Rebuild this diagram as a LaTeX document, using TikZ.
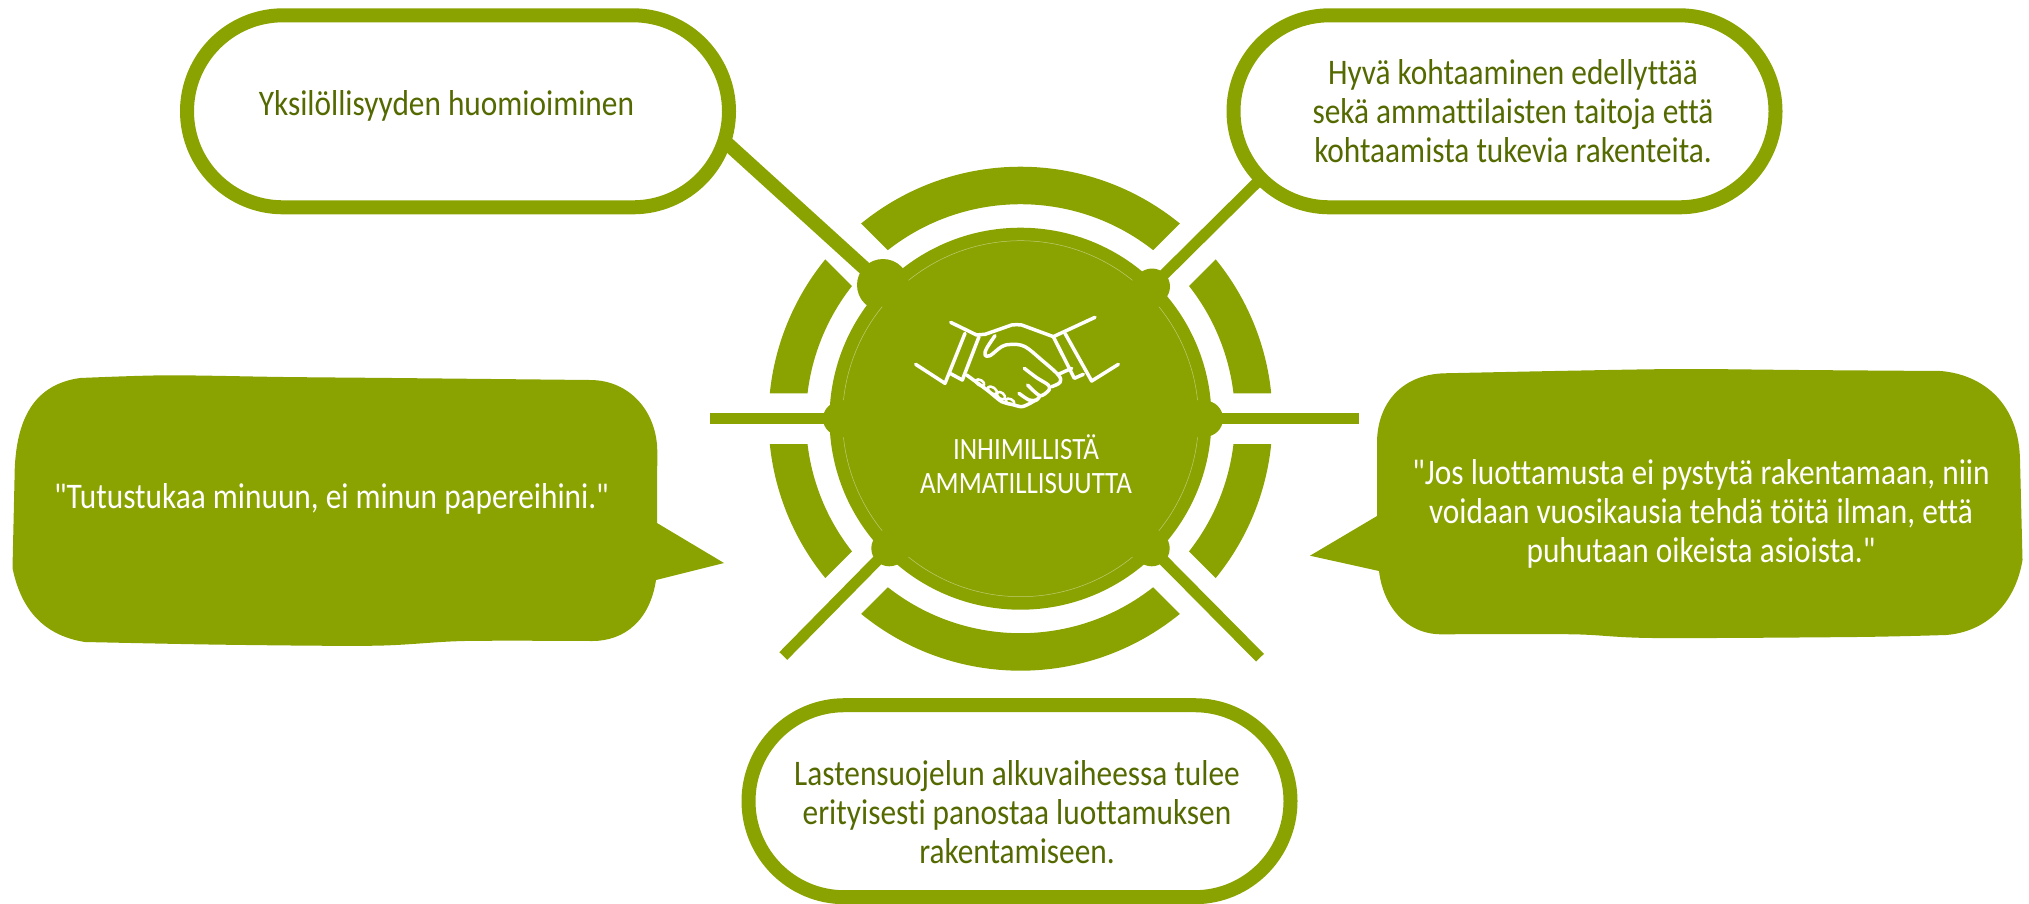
\documentclass[tikz,border=0pt]{standalone}
\usepackage{fontspec}
\setmainfont{Carlito}
\newfontfamily\ltxt{Carlito}[FakeStretch=0.87,Ligatures={NoCommon,NoRare,NoDiscretionary,NoContextual}]
\definecolor{leaf}{HTML}{8AA300}
\definecolor{ink}{HTML}{546A00}
\tikzset{
  pill/.style={draw=leaf,line width=14pt,fill=white,rounded corners=96pt,minimum width=542pt,minimum height=192pt,inner sep=0pt,outer sep=0pt},
  conn/.style={draw=leaf,line width=11pt},
  knob/.style={circle,fill=leaf,inner sep=0pt,outer sep=0pt},
  darktxt/.style={text=ink,align=center,font=\ltxt\fontsize{36pt}{38.7pt}\selectfont,inner sep=0pt},
  lighttxt/.style={text=white,align=center,font=\ltxt\fontsize{36pt}{39.2pt}\selectfont,inner sep=0pt},
  handline/.style={draw=white,line width=3.5pt,line cap=round,line join=round},
  thinring/.style={draw=white,line width=0.5pt,opacity=0.45}
}
\newcommand{\ringsector}[2]{%
  \pgfmathsetmacro{\oa}{#1+5.78}\pgfmathsetmacro{\ob}{#2-5.78}%
  \pgfmathsetmacro{\ia}{#2-6.8}\pgfmathsetmacro{\ib}{#1+6.8}%
  \fill[leaf] ([shift={(\oa:252pt)}]1020.5,418.7) arc[start angle=\oa,end angle=\ob,radius=252pt]
    -- ([shift={(\ia:214.5pt)}]1020.5,418.7) arc[start angle=\ia,end angle=\ib,radius=214.5pt] -- cycle;}
\newcommand{\thinarc}[2]{%
  \draw[thinring] ([shift={(#1:178pt)}]1020.5,418.7) arc[start angle=#1,end angle=#2,radius=178pt];}
\begin{document}
\begin{tikzpicture}[x=1pt,y=1pt,yscale=-1]
\useasboundingbox (0,0) rectangle (2029,903);
% ring
\ringsector{225}{315}\ringsector{45}{135}\ringsector{135}{180}\ringsector{180}{225}\ringsector{315}{360}\ringsector{0}{45}
% knobs and disc
\node[knob,minimum size=382pt] (disc) at (1020.5,418.7) {};
\node[knob,minimum size=52pt] (kul) at (883,285) {};
\node[knob,minimum size=36pt] (kur) at (1152,286.5) {};
\node[knob,minimum size=36pt] (kll) at (889.3,548.3) {};
\node[knob,minimum size=36pt] (klr) at (1151.7,548.3) {};
\node[knob,minimum size=34pt] (kl) at (840,418.7) {};
\node[knob,minimum size=36pt] (kr) at (1205,418.7) {};
\thinarc{6}{39}\thinarc{51}{129}\thinarc{141}{174}\thinarc{186}{219}\thinarc{231}{309}\thinarc{321}{354}
% free ends
\coordinate (eul) at (725,141.5);
\coordinate (eur) at (1259,180.5);
\coordinate (ell) at (783.3,656);
\coordinate (elr) at (1260,657.7);
\coordinate (el) at (710,418.7);
\coordinate (er) at (1359,418.7);
\draw[conn,line width=14pt] (kul.center) -- (eul);
\draw[conn] (kur.center) -- (eur);
\draw[conn] (kll.center) -- (ell);
\draw[conn] (klr.center) -- (elr);
\draw[conn] (kl.center) -- (el);
\draw[conn] (kr.center) -- (er);
% pills
\node[pill] (pul) at (458,111.3) {};
\node[pill] (pur) at (1504.5,111.3) {};
\node[pill] (pb) at (1019.5,801.2) {};
\node[darktxt] (tul) at (446.5,106) {Yksilöllisyyden huomioiminen};
\node[darktxt] (tur) at (1513,111) {Hyvä kohtaaminen edellyttää\\sekä ammattilaisten taitoja että\\kohtaamista tukevia rakenteita.};
\node[darktxt] (tb) at (1017,812) {Lastensuojelun alkuvaiheessa tulee\\erityisesti panostaa luottamuksen\\rakentamiseen.};
% speech bubbles
\fill[leaf] (14.5,480) .. controls (14.5,425) and (30,385) .. (80,378)
  -- plot[smooth,tension=0.5] coordinates {(80,378) (167,375.3) (284,377) (393,378) (590,380)}
  .. controls (630,380) and (657.3,412) .. (657.3,452)
  -- (657,523) -- (724,563) -- (656,580)
  .. controls (650,620) and (625,641) .. (592,641)
  -- plot[smooth,tension=0.5] coordinates {(592,641) (464,641) (375,645.7) (223,644.7) (85,642)}
  .. controls (40,635) and (20,605) .. (12.5,568) -- cycle;
\fill[leaf] (1377,516) -- (1377,443) .. controls (1377,405) and (1400,375) .. (1443.6,373.3)
  -- plot[smooth,tension=0.5] coordinates {(1443.6,373.3) (1570,370.7) (1682,369) (1800,370) (1941,371)}
  .. controls (1985,375) and (2019,405) .. (2020,460) -- (2022.5,560)
  .. controls (2015,605) and (1985,632) .. (1946,635)
  -- plot[smooth,tension=0.5] coordinates {(1946,635) (1856,637) (1653,638) (1573,634.3) (1441,634.3)}
  .. controls (1405,634) and (1383,605) .. (1379,571) -- (1310,555.7) -- cycle;
\node[lighttxt] (tl) at (331.5,499) {"Tutustukaa minuun, ei minun papereihini."};
\node[lighttxt] (tr) at (1701,514) {"Jos luottamusta ei pystytä rakentamaan, niin\\voidaan vuosikausia tehdä töitä ilman, että\\puhutaan oikeista asioista."};
\node[text=white,align=center,inner sep=0pt,font=\ltxt\fontsize{31pt}{33.7pt}\selectfont] (tc) at (1026,464) {INHIMILLISTÄ\\AMMATILLISUUTTA};
% handshake
\begin{scope}[shift={(905,305)},scale=1/3]
\draw[handline] (137,52) -- (215,90) to[out=10,in=195] (240,88) -- (320,60) to[out=-5,in=190] (350,60) -- (445,95) -- (570,37);
\draw[handline] (32,178) -- (120,235) -- (180,85);
\draw[handline] (135,205) -- (172,225) -- (222,95);
\draw[handline] (640,178) -- (560,228) -- (480,85);
\draw[handline] (445,95) -- (508,220) -- (535,208);
\draw[handline] plot[smooth,tension=0.6] coordinates {(270,92) (245,130) (240,150) (255,152) (290,125) (320,118) (360,125) (410,165) (460,210) (465,232) (440,245)};
\draw[handline] (462,207) -- (500,190);
\draw[handline] plot[smooth,tension=0.5] coordinates {(358,190) (395,218) (430,240) (432,255) (405,272) (368,240)};
\draw[handline] plot[smooth,tension=0.5] coordinates {(405,272) (395,285) (372,285) (342,265)};
\draw[handline] plot[smooth,tension=0.5] coordinates {(185,210) (215,232) (250,258) (290,290) (320,298) (350,305) (375,295) (392,285)};
\draw[handline,line width=2.5pt] (225,233) ellipse[x radius=14,y radius=8,rotate=30];
\draw[handline,line width=2.5pt] (262,256) ellipse[x radius=16,y radius=9,rotate=35];
\draw[handline,line width=2.5pt] (288,272) ellipse[x radius=14,y radius=9,rotate=40];
\draw[handline,line width=2.5pt] (315,290) ellipse[x radius=14,y radius=8,rotate=25];
\end{scope}
\end{tikzpicture}
\end{document}
